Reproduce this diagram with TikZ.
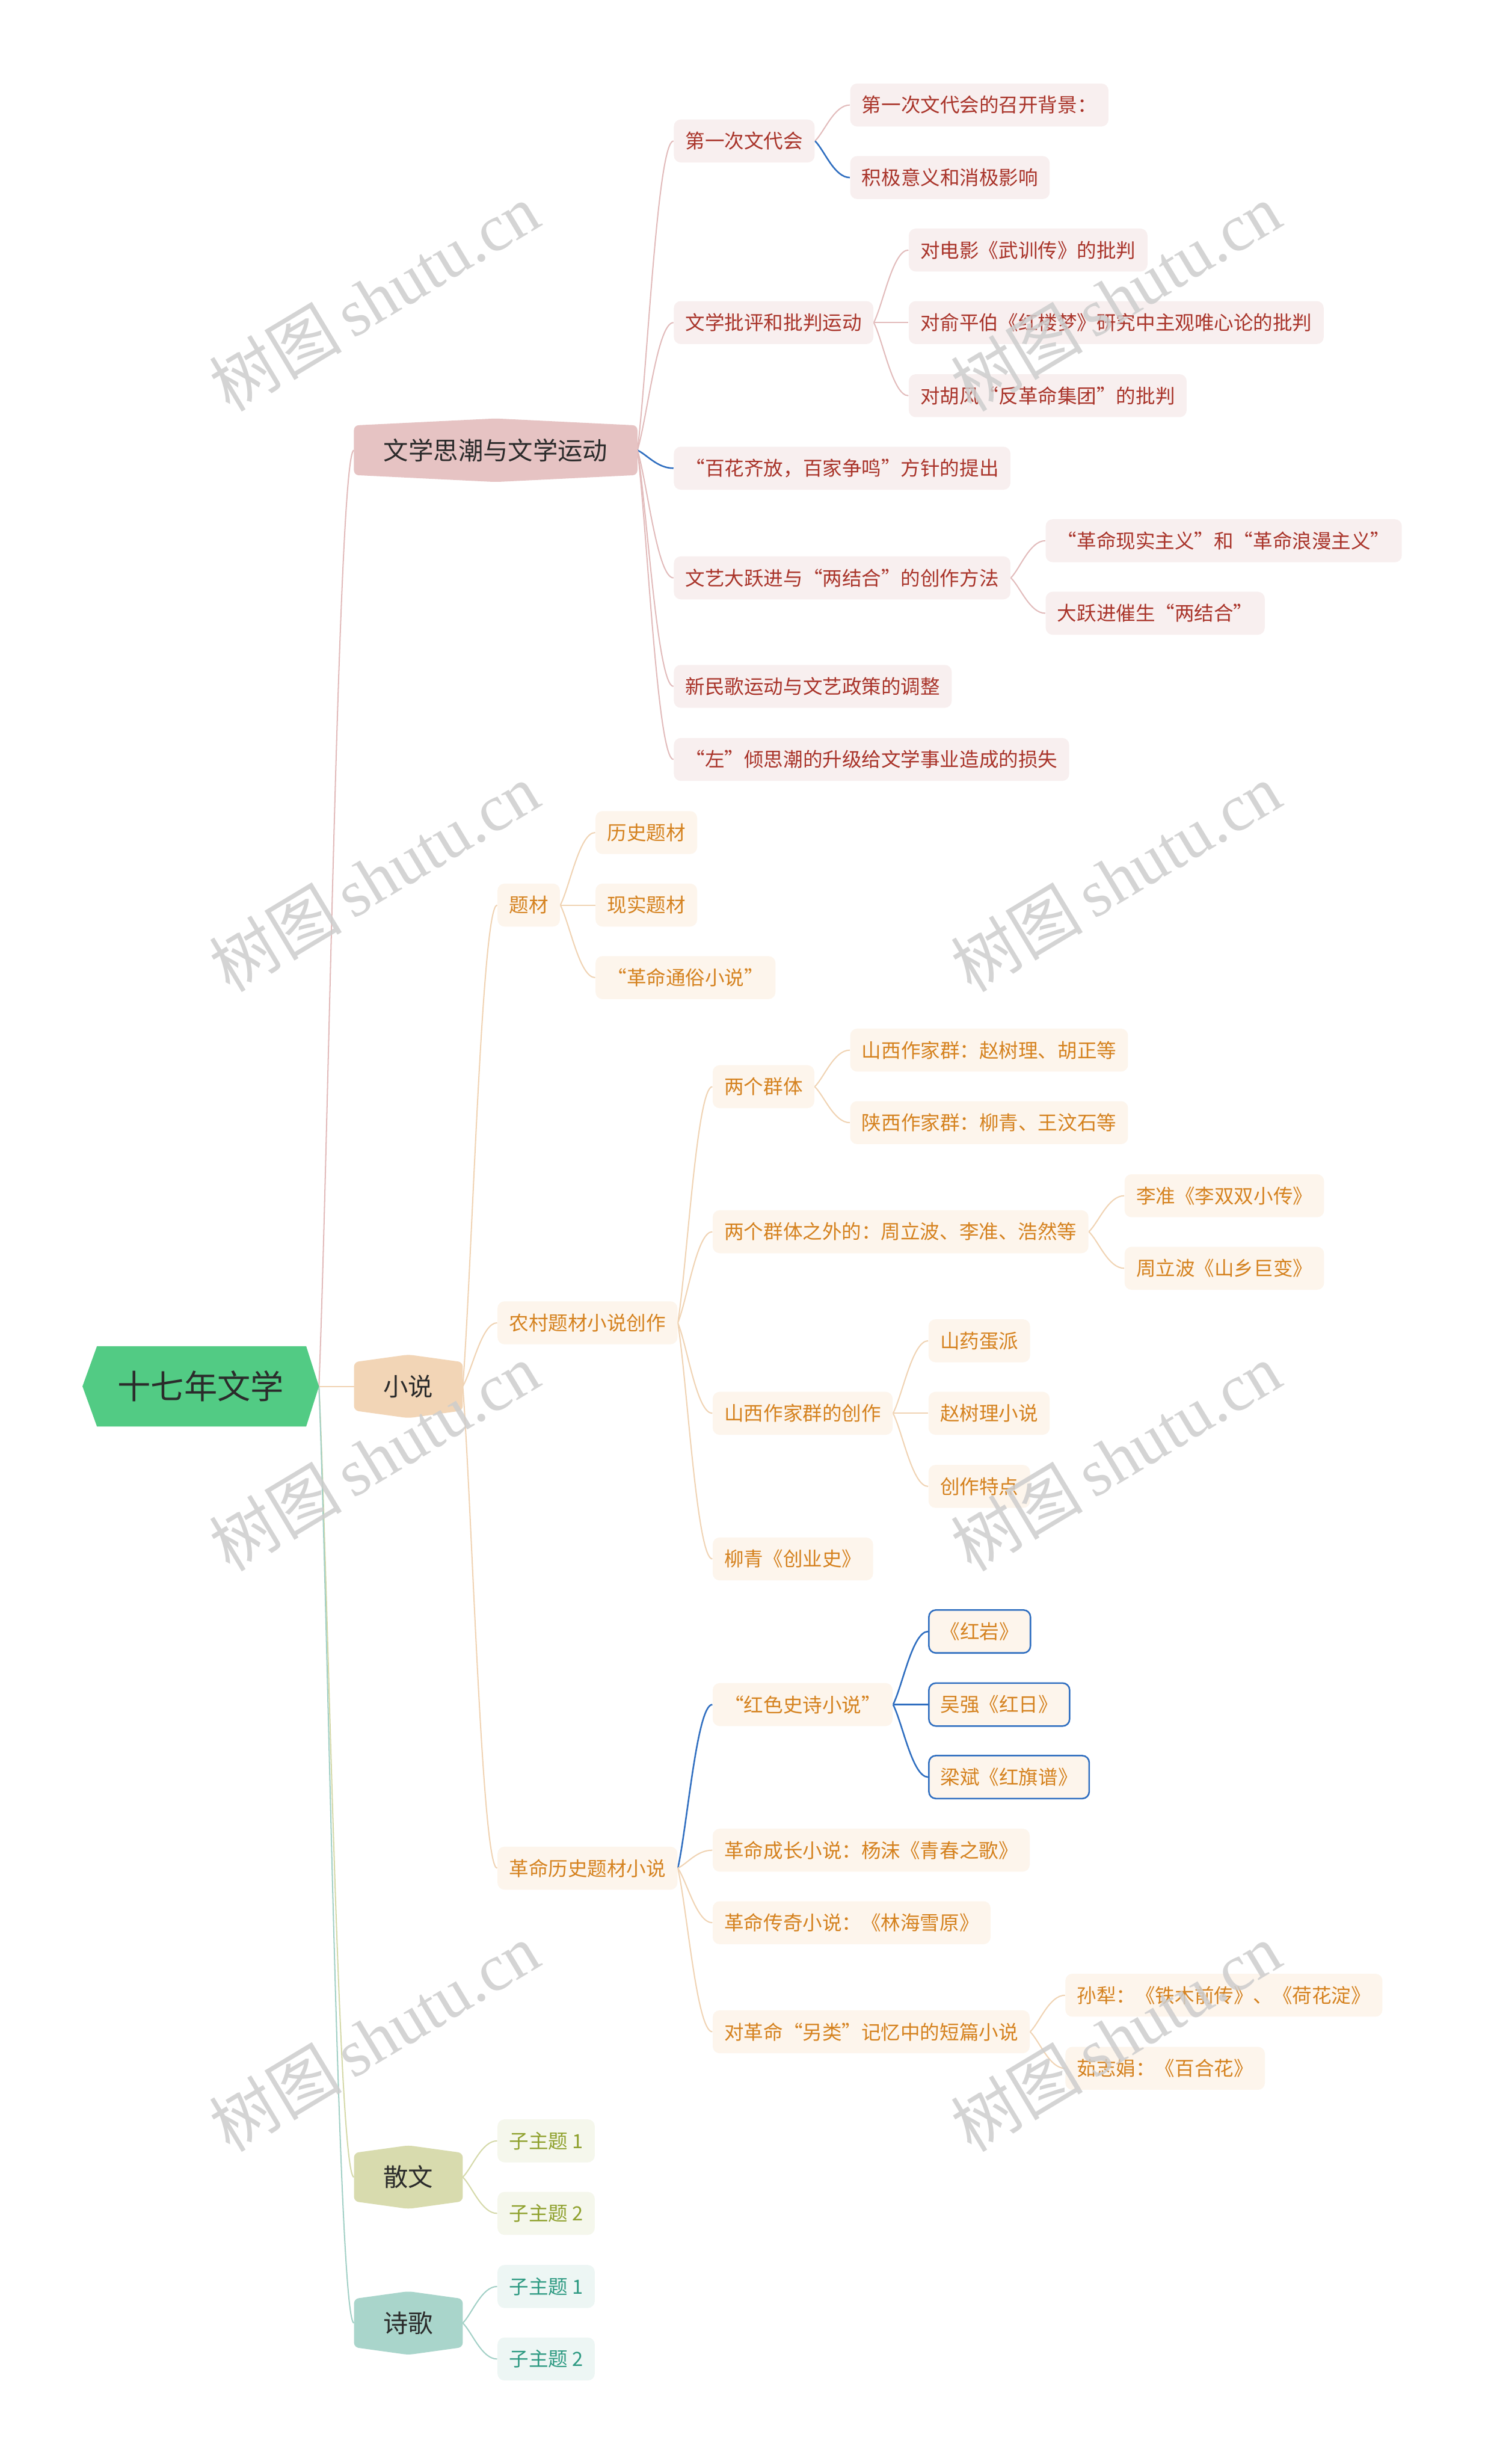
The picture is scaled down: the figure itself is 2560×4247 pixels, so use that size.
\documentclass[tikz,border=0pt]{standalone}
\usepackage{fontspec}
\newfontfamily\cjk{Noto Sans CJK SC}
\newfontfamily\wmlat{Liberation Serif}
\usetikzlibrary{calc}
\pgfdeclarelayer{paper}
\pgfdeclarelayer{lines}
\pgfdeclarelayer{shapes}
\pgfdeclarelayer{wm}
\pgfsetlayers{paper,lines,shapes,main,wm}
\definecolor{rootg}{HTML}{52CB84}
\definecolor{dark}{HTML}{2B2B2B}
\definecolor{pinkfill}{HTML}{E6C3C3}
\definecolor{pinkln}{HTML}{E2BBBB}
\definecolor{pinkbg}{HTML}{F8EFEF}
\definecolor{redtx}{HTML}{A9342A}
\definecolor{peachfill}{HTML}{F2D5B6}
\definecolor{peachln}{HTML}{F0D3B3}
\definecolor{orgbg}{HTML}{FDF5EC}
\definecolor{orgtx}{HTML}{D5821F}
\definecolor{olvfill}{HTML}{D8DBAE}
\definecolor{olvln}{HTML}{D5D9A9}
\definecolor{olvbg}{HTML}{F5F7EC}
\definecolor{olvtx}{HTML}{8FA12E}
\definecolor{tealfill}{HTML}{A9D5CB}
\definecolor{tealln}{HTML}{A2D0C6}
\definecolor{tealbg}{HTML}{EDF6F4}
\definecolor{tealtx}{HTML}{2E9A82}
\definecolor{blueln}{HTML}{2F6EC0}
\definecolor{wmgray}{HTML}{CDCDCD}
\tikzset{
  sub/.style={anchor=west, font=\cjk\fontsize{9.6}{11}\selectfont, minimum height=0.74cm, inner xsep=0.2cm, inner ysep=0pt, rounded corners=0.12cm},
  rbox/.style={sub, fill=pinkbg, text=redtx},
  obox/.style={sub, fill=orgbg, text=orgtx},
  vbox/.style={sub, fill=olvbg, text=olvtx},
  tbox/.style={sub, fill=tealbg, text=tealtx},
  bbox/.style={draw=blueln, line width=0.75pt},
  lvone/.style={font=\cjk\fontsize{12.2}{14}\selectfont, text=dark, inner sep=0pt, minimum height=0.82cm},
  ln/.style={line width=0.6pt},
  bln/.style={line width=0.75pt, blueln},
  wmark/.style={text=wmgray, opacity=0.85, rotate=31, font=\fontsize{32.5}{36}\selectfont, inner sep=0pt}
}
\newcommand\mlink[3]{\draw[#1] let \p1=(#2), \p2=(#3) in (\p1) .. controls ({\x1+0.27*((\x2)-(\x1))},{\y1+0.25*((\y2)-(\y1))}) and ({\x2-0.45*((\x2)-(\x1))},\y2) .. (\p2);}
\newcommand\hexv[3]{\fill[#1, rounded corners=0.08cm] (#2.north west) -- ($(#2.north)+(0,-#3)$) -- (#2.north east) -- (#2.south east) -- ($(#2.south)+(0,#3)$) -- (#2.south west) -- cycle;}
\begin{document}
\begin{tikzpicture}[x=0.01cm, y=-0.01cm]
\begin{pgfonlayer}{paper}
\fill[white] (0,0) rectangle (2560,4247);
\end{pgfonlayer}
\useasboundingbox (0,0) rectangle (2560,4247);

% root
\node[font=\cjk\fontsize{16.3}{18}\selectfont, text=dark, minimum width=4.06cm, minimum height=1.37cm, inner sep=0pt] (root) at (346,2389.5) {十七年文学};

% level 1
\node[lvone, minimum width=4.87cm, minimum height=0.84cm] (b1) at (854.5,776) {文学思潮与文学运动};
\node[lvone, minimum width=1.86cm] (b2) at (704,2389.5) {小说};
\node[lvone, minimum width=1.86cm] (b3) at (704,3752.5) {散文};
\node[lvone, minimum width=1.86cm] (b4) at (704,4004) {诗歌};

% branch 1
\node[rbox] (n11) at (1161,243) {第一次文代会};
\node[rbox] (n12) at (1161,556) {文学批评和批判运动};
\node[rbox] (n13) at (1161,807) {“百花齐放，百家争鸣”方针的提出};
\node[rbox] (n14) at (1161,996) {文艺大跃进与“两结合”的创作方法};
\node[rbox] (n15) at (1161,1183) {新民歌运动与文艺政策的调整};
\node[rbox] (n16) at (1161,1309) {“左”倾思潮的升级给文学事业造成的损失};
\node[rbox] (n111) at (1465,181) {第一次文代会的召开背景：};
\node[rbox] (n112) at (1465,306) {积极意义和消极影响};
\node[rbox] (n121) at (1566,431) {对电影《武训传》的批判};
\node[rbox] (n122) at (1566,556) {对俞平伯《红楼梦》研究中主观唯心论的批判};
\node[rbox] (n123) at (1566,682) {对胡风“反革命集团”的批判};
\node[rbox] (n141) at (1802,932) {“革命现实主义”和“革命浪漫主义”};
\node[rbox] (n142) at (1802,1057) {大跃进催生“两结合”};

% branch 2
\node[obox] (n21) at (857,1560) {题材};
\node[obox] (n22) at (857,2280) {农村题材小说创作};
\node[obox] (n23) at (857,3220) {革命历史题材小说};
\node[obox] (n211) at (1026,1435) {历史题材};
\node[obox] (n212) at (1026,1560) {现实题材};
\node[obox] (n213) at (1026,1685) {“革命通俗小说”};
\node[obox] (n221) at (1228,1873) {两个群体};
\node[obox] (n222) at (1228,2123) {两个群体之外的：周立波、李准、浩然等};
\node[obox] (n223) at (1228,2436) {山西作家群的创作};
\node[obox] (n224) at (1228,2687) {柳青《创业史》};
\node[obox] (n2211) at (1465,1810) {山西作家群：赵树理、胡正等};
\node[obox] (n2212) at (1465,1935) {陕西作家群：柳青、王汶石等};
\node[obox] (n2221) at (1938,2061) {李准《李双双小传》};
\node[obox] (n2222) at (1938,2186) {周立波《山乡巨变》};
\node[obox] (n2231) at (1600,2311) {山药蛋派};
\node[obox] (n2232) at (1600,2436) {赵树理小说};
\node[obox] (n2233) at (1600,2562) {创作特点};
\node[obox] (n231) at (1228,2938) {“红色史诗小说”};
\node[obox] (n232) at (1228,3189) {革命成长小说：杨沫《青春之歌》};
\node[obox] (n233) at (1228,3314) {革命传奇小说：《林海雪原》};
\node[obox] (n234) at (1228,3502) {对革命“另类”记忆中的短篇小说};
\node[obox, bbox] (n2311) at (1600,2812) {《红岩》};
\node[obox, bbox] (n2312) at (1600,2938) {吴强《红日》};
\node[obox, bbox] (n2313) at (1600,3063) {梁斌《红旗谱》};
\node[obox] (n2341) at (1836,3439) {孙犁：《铁木前传》、《荷花淀》};
\node[obox] (n2342) at (1836,3565) {茹志娟：《百合花》};

% branch 3, 4
\node[vbox] (s1) at (857,3690) {子主题 1};
\node[vbox] (s2) at (857,3815) {子主题 2};
\node[tbox] (p1) at (857,3941) {子主题 1};
\node[tbox] (p2) at (857,4066) {子主题 2};

% shapes
\begin{pgfonlayer}{shapes}
\fill[rootg] (root.west) -- ($(root.north west)+(25,0)$) -- ($(root.north east)+(-22,0)$) -- (root.east) -- ($(root.south east)+(-22,0)$) -- ($(root.south west)+(25,0)$) -- cycle;
\hexv{pinkfill}{b1}{12}
\hexv{peachfill}{b2}{13}
\hexv{olvfill}{b3}{13}
\hexv{tealfill}{b4}{13}
\end{pgfonlayer}

% connectors
\begin{pgfonlayer}{lines}
\mlink{ln, pinkln}{root.east}{b1.west}
\mlink{ln, peachln}{root.east}{b2.west}
\mlink{ln, olvln}{root.east}{b3.west}
\mlink{ln, tealln}{root.east}{b4.west}
\mlink{ln, pinkln}{b1.east}{n11.west}
\mlink{ln, pinkln}{b1.east}{n12.west}
\mlink{bln}{b1.east}{n13.west}
\mlink{ln, pinkln}{b1.east}{n14.west}
\mlink{ln, pinkln}{b1.east}{n15.west}
\mlink{ln, pinkln}{b1.east}{n16.west}
\mlink{ln, pinkln}{n11.east}{n111.west}
\mlink{bln}{n11.east}{n112.west}
\mlink{ln, pinkln}{n12.east}{n121.west}
\mlink{ln, pinkln}{n12.east}{n122.west}
\mlink{ln, pinkln}{n12.east}{n123.west}
\mlink{ln, pinkln}{n14.east}{n141.west}
\mlink{ln, pinkln}{n14.east}{n142.west}
\mlink{ln, peachln}{b2.east}{n21.west}
\mlink{ln, peachln}{b2.east}{n22.west}
\mlink{ln, peachln}{b2.east}{n23.west}
\mlink{ln, peachln}{n21.east}{n211.west}
\mlink{ln, peachln}{n21.east}{n212.west}
\mlink{ln, peachln}{n21.east}{n213.west}
\mlink{ln, peachln}{n22.east}{n221.west}
\mlink{ln, peachln}{n22.east}{n222.west}
\mlink{ln, peachln}{n22.east}{n223.west}
\mlink{ln, peachln}{n22.east}{n224.west}
\mlink{ln, peachln}{n221.east}{n2211.west}
\mlink{ln, peachln}{n221.east}{n2212.west}
\mlink{ln, peachln}{n222.east}{n2221.west}
\mlink{ln, peachln}{n222.east}{n2222.west}
\mlink{ln, peachln}{n223.east}{n2231.west}
\mlink{ln, peachln}{n223.east}{n2232.west}
\mlink{ln, peachln}{n223.east}{n2233.west}
\mlink{bln}{n23.east}{n231.west}
\mlink{ln, peachln}{n23.east}{n232.west}
\mlink{ln, peachln}{n23.east}{n233.west}
\mlink{ln, peachln}{n23.east}{n234.west}
\mlink{bln}{n231.east}{n2311.west}
\mlink{bln}{n231.east}{n2312.west}
\mlink{bln}{n231.east}{n2313.west}
\mlink{ln, peachln}{n234.east}{n2341.west}
\mlink{ln, peachln}{n234.east}{n2342.west}
\mlink{ln, olvln}{b3.east}{s1.west}
\mlink{ln, olvln}{b3.east}{s2.west}
\mlink{ln, tealln}{b4.east}{p1.west}
\mlink{ln, tealln}{b4.east}{p2.west}
\end{pgfonlayer}

% watermarks
\begin{pgfonlayer}{wm}
\node[wmark] (wm1) at (645,512) {{\cjk 树图}\,{\wmlat shutu.cn}};
\node[wmark] (wm2) at (1923,512) {{\cjk 树图}\,{\wmlat shutu.cn}};
\node[wmark] (wm3) at (645,1512) {{\cjk 树图}\,{\wmlat shutu.cn}};
\node[wmark] (wm4) at (1923,1512) {{\cjk 树图}\,{\wmlat shutu.cn}};
\node[wmark] (wm5) at (645,2511) {{\cjk 树图}\,{\wmlat shutu.cn}};
\node[wmark] (wm6) at (1923,2511) {{\cjk 树图}\,{\wmlat shutu.cn}};
\node[wmark] (wm7) at (645,3511) {{\cjk 树图}\,{\wmlat shutu.cn}};
\node[wmark] (wm8) at (1923,3511) {{\cjk 树图}\,{\wmlat shutu.cn}};
\end{pgfonlayer}
\end{tikzpicture}
\end{document}
